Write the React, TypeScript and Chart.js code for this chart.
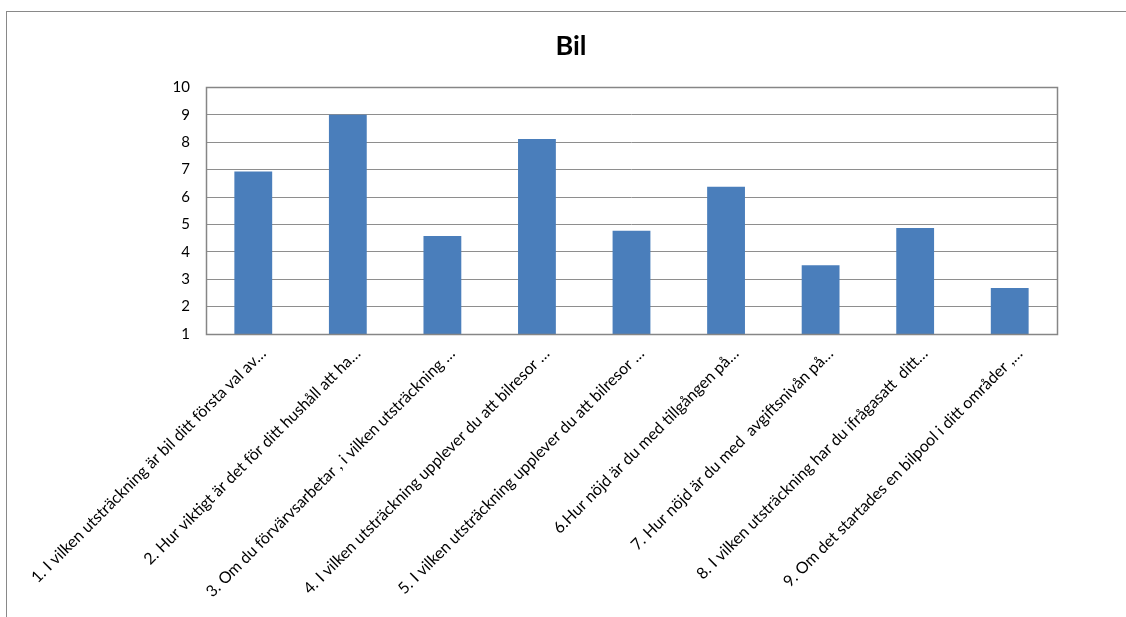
import React, { useEffect, useRef } from "react";
import { Chart, registerables } from "chart.js";

Chart.register(...registerables);

const title = "Bil";
const categories = [
  "1. I vilken utsträckning är bil ditt första val av…",
  "2. Hur viktigt är det för ditt hushåll att ha…",
  "3. Om du förvärvsarbetar , i vilken utsträckning …",
  "4. I vilken utsträckning upplever du att bilresor …",
  "5. I vilken utsträckning upplever du att bilresor …",
  "6.Hur nöjd är du med tillgången på…",
  "7. Hur nöjd är du med  avgiftsnivån på…",
  "8. I vilken utsträckning har du ifrågasatt  ditt…",
  "9. Om det startades en bilpool i ditt områder ,…",
];
const values = [6.93, 9.0, 4.58, 8.12, 4.77, 6.37, 3.51, 4.87, 2.68];
const yMin = 1;
const yMax = 10;
const yStep = 1;

const FONT = "Lato, 'Open Sans', sans-serif";
const LABEL_FONT = "Lato, 'Open Sans', sans-serif";

const framePlugin = {
  id: "frame",
  beforeDraw(chart: any) {
    const ctx = chart.ctx;
    ctx.save();
    ctx.fillStyle = "#ffffff";
    ctx.fillRect(0, 0, chart.width, chart.height);
    ctx.strokeStyle = "#898989";
    ctx.lineWidth = 1;
    ctx.strokeRect(6.5, 11.5, chart.width + 20, chart.height + 20);
    ctx.restore();
  },
  afterDatasetsDraw(chart: any) {
    const { ctx, chartArea } = chart;
    ctx.save();
    ctx.strokeStyle = "#868686";
    ctx.lineWidth = 1.5;
    ctx.strokeRect(
      Math.round(chartArea.left) + 0.5,
      Math.round(chartArea.top) + 0.5,
      Math.round(chartArea.right - chartArea.left),
      Math.round(chartArea.bottom - chartArea.top)
    );
    ctx.restore();
  },
};

export default function App() {
  const ref = useRef<HTMLCanvasElement | null>(null);

  useEffect(() => {
    if (!ref.current) return;
    const chart = new Chart(ref.current, {
      type: "bar",
      data: {
        labels: categories,
        datasets: [
          {
            data: values,
            backgroundColor: "#4a7ebb",
            borderWidth: 0,
            barPercentage: 0.4,
            categoryPercentage: 1,
          },
        ],
      },
      options: {
        responsive: false,
        animation: false,
        layout: { padding: { left: 85, right: 69, top: 0, bottom: 0 } },
        plugins: {
          legend: { display: false },
          tooltip: { enabled: false },
          title: {
            display: true,
            text: title,
            color: "#000000",
            font: { family: FONT, size: 27, weight: "bold" },
            padding: { top: 30, bottom: 25 },
          },
        },
        scales: {
          x: {
            grid: { display: false, drawTicks: false },
            border: { display: false },
            ticks: {
              color: "#000000",
              font: { family: LABEL_FONT, size: 16 },
              minRotation: 45,
              maxRotation: 45,
              autoSkip: false,
              padding: 10,
              labelOffset: 10,
            },
            afterFit(scale: any) {
              scale.height = 283;
              scale.paddingLeft = 0;
              scale.paddingRight = 0;
            },
          },
          y: {
            min: yMin,
            max: yMax,
            grid: { color: "#8e8e8e", lineWidth: 1, drawTicks: false },
            border: { display: false },
            ticks: {
              stepSize: yStep,
              color: "#000000",
              font: { family: FONT, size: 15 },
              padding: 16,
            },
            afterFit(scale: any) {
              scale.width = 121;
            },
          },
        },
      },
      plugins: [framePlugin],
    });
    return () => chart.destroy();
  }, []);

  return (
    <div style={{ position: "absolute", left: 0, top: 0, width: 1126, height: 617 }}>
      <canvas ref={ref} width={1126} height={617} style={{ display: "block", width: 1126, height: 617 }} />
    </div>
  );
}
